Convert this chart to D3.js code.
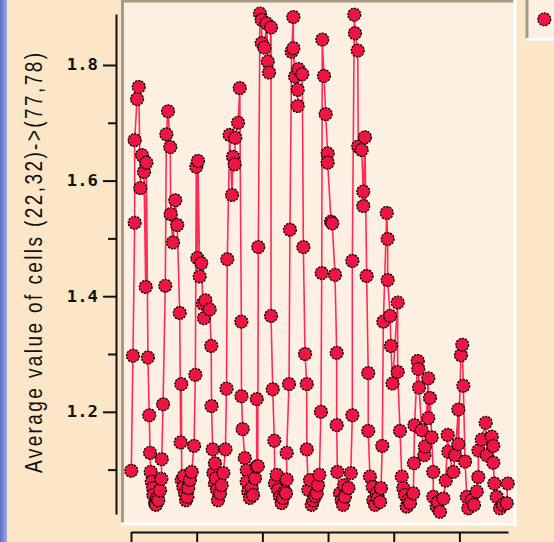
<!DOCTYPE html>
<html>
<head>
<meta charset="utf-8">
<script src="https://cdn.jsdelivr.net/npm/d3@7"></script>
<style>
  html, body { margin: 0; padding: 0; background: #fbe6c8; }
  svg { display: block; }
</style>
</head>
<body>
<svg id="chart" width="554" height="542"></svg>
<script>
// Simulation steps (x) and the average value of cells (22,32)->(77,78) at each step (y).
const steps = [
  0.2,1.5,2.8,2.8,4.6,5.9,7.1,8.4,9.9,11.2,11.7,12.9,13.9,14.5,15.0,15.8,16.8,17.0,18.3,19.0,19.8,20.8,22.1,23.1,23.4,
  24.4,26.1,26.9,28.2,29.9,30.2,32.0,33.7,35.2,37.1,37.8,38.3,38.6,39.8,40.3,41.1,41.9,42.9,43.6,44.9,46.2,48.0,
  49.0,49.7,50.5,51.0,52.3,53.5,54.8,55.6,56.6,59.9,61.1,61.3,62.2,62.7,63.9,63.9,64.7,65.5,66.2,67.8,69.0,70.3,
  71.9,72.7,73.3,75.1,76.9,77.7,78.9,79.4,81.5,82.8,84.0,84.1,85.0,86.6,88.1,88.1,89.3,90.6,91.9,92.9,94.4,95.7,
  95.7,96.5,96.9,98.2,99.5,99.5,101.5,103.3,104.1,105.1,106.6,106.6,107.9,109.1,109.6,110.9,111.9,113.4,114.7,115.7,117.2,118.0,118.5,
  118.5,120.3,121.0,122.3,123.6,123.6,124.9,126.9,126.9,127.4,130.4,131.2,132.5,133.8,133.8,135.0,136.3,137.6,138.8,140.1,141.4,142.4,143.4,
  144.6,145.2,145.6,146.9,148.2,149.7,149.7,152.3,153.2,155.3,156.6,156.6,157.1,159.1,160.4,161.4,162.2,162.9,165.5,167.3,
  168.5,168.5,170.0,170.5,172.6,173.0,175.6,176.8,176.8,178.1,179.4,180.6,180.6,181.9,184.0,184.5,185.8,187.0,188.0,189.6,190.3,
  191.3,192.1,194.7,195.4,195.4,197.2,197.9,199.1,203.0,203.0,204.8,206.1,207.3,208.6,209.9,211.1,212.4,214.9,
  215.4,215.8,218.3,218.7,219.3,221.3,223.3,223.8,226.3,226.3,227.6,228.9,230.1,230.1,232.7,233.7,235.2,237.8,
  239.6,241.1,241.6,245.4,246.7,249.2,249.2,251.2,252.2,253.0,254.3,255.6,256.8,259.4,261.1,263.2,264.4,
  264.5,267.0,270.0,270.8,274.6,275.8,275.8,276.6,278.4,280.9,283.2,286.0,286.8
];
const averages = [
  1.098,1.297,1.527,1.670,1.741,1.762,1.587,1.644,1.615,1.416,1.631,1.294,1.194,1.129,1.096,1.079,1.068,1.056,1.042,1.039,1.051,1.047,1.064,1.084,1.118,
  1.213,1.418,1.680,1.720,1.658,1.542,1.493,1.566,1.523,1.371,1.147,1.248,1.082,1.070,1.089,1.059,1.047,1.053,1.068,1.082,1.096,1.141,
  1.264,1.624,1.466,1.634,1.434,1.457,1.387,1.362,1.393,1.377,1.314,1.210,1.135,1.094,1.111,1.076,1.085,1.065,1.047,1.059,1.073,1.094,
  1.135,1.240,1.464,1.679,1.575,1.641,1.628,1.674,1.700,1.760,1.356,1.227,1.170,1.120,1.099,1.079,1.062,1.051,1.068,1.056,1.085,1.105,
  1.222,1.106,1.485,1.889,1.878,1.838,1.830,1.872,1.806,1.787,1.865,1.366,1.239,1.150,1.076,1.091,1.065,1.053,1.042,1.051,1.062,1.059,1.083,
  1.129,1.248,1.515,1.823,1.883,1.829,1.780,1.757,1.729,1.793,1.784,1.485,1.300,1.248,1.135,1.065,1.082,1.039,1.047,1.054,1.059,1.073,1.091,
  1.200,1.440,1.844,1.781,1.715,1.647,1.631,1.529,1.526,1.437,1.302,1.177,1.096,1.059,1.047,1.039,1.073,1.053,1.068,1.094,
  1.194,1.461,1.887,1.855,1.825,1.659,1.653,1.581,1.556,1.675,1.435,1.267,1.167,1.088,1.070,1.047,1.039,1.059,1.051,1.044,1.068,
  1.141,1.356,1.544,1.499,1.428,1.366,1.314,1.249,1.389,1.269,1.167,1.088,1.068,1.056,1.036,1.047,1.042,1.059,
  1.111,1.177,1.288,1.274,1.242,1.168,1.125,1.140,1.258,1.189,1.224,1.156,1.096,1.053,1.036,1.044,1.027,1.050,
  1.081,1.160,1.131,1.096,1.125,1.204,1.144,1.298,1.316,1.245,1.114,1.053,1.033,1.047,1.039,1.062,1.087,
  1.133,1.152,1.181,1.125,1.157,1.141,1.112,1.076,1.053,1.033,1.039,1.042,1.076
];
const xTickValues = [0, 50, 100, 150, 200, 250];
const yMajorTicks = [1.2, 1.4, 1.6, 1.8];
const yMinorTicks = [1.1, 1.3, 1.5, 1.7];
const yTitle = "Average value of cells (22,32)->(77,78)";

const svg = d3.select("#chart");

const PANEL = "#fdf0e2", EDGE = "#a89a84";
const LINE = "#ff2a58", DOT = "#ee1443";
const MONO = "'DejaVu Sans Mono', 'Liberation Mono', monospace";
const SANS = "'Liberation Sans', Arial, sans-serif";

// left accent stripe
const defs = svg.append("defs");
const grad = defs.append("linearGradient").attr("id", "stripe").attr("x1", 0).attr("x2", 1);
grad.append("stop").attr("offset", 0).attr("stop-color", "#5b6cc8");
grad.append("stop").attr("offset", 1).attr("stop-color", "#a3abe4");
svg.append("rect").attr("x", 0).attr("y", 0).attr("width", 7).attr("height", 542).attr("fill", "url(#stripe)");

// plotting panel with an inset edge
svg.append("rect").attr("x", 121).attr("y", 0).attr("width", 395).attr("height", 524).attr("fill", PANEL);
svg.append("rect").attr("x", 121).attr("y", 0).attr("width", 394).attr("height", 2.5).attr("fill", EDGE);
svg.append("rect").attr("x", 121).attr("y", 0).attr("width", 3).attr("height", 525).attr("fill", EDGE);
svg.append("rect").attr("x", 513.5).attr("y", 0).attr("width", 3).attr("height", 526).attr("fill", "#ffffff");
svg.append("rect").attr("x", 121).attr("y", 522.5).attr("width", 395.5).attr("height", 3).attr("fill", "#ffffff");

// scales
const x = d3.scaleLinear().domain([0, 287]).range([131, 508]);
const y = d3.scaleLinear().domain([1.0232, 1.8882]).range([514, 14]);

// y axis: major + minor ticks
svg.append("g").attr("transform", "translate(116,0)")
  .call(d3.axisLeft(y).tickValues(yMajorTicks).tickSize(13).tickSizeOuter(0).tickFormat(""));
svg.append("g").attr("transform", "translate(116,0)")
  .call(d3.axisLeft(y).tickValues(yMinorTicks).tickSize(8).tickSizeOuter(0).tickFormat(""))
  .select(".domain").remove();

// x axis
svg.append("g").attr("transform", "translate(0,532)")
  .call(d3.axisBottom(x).tickValues(xTickValues).tickSize(12).tickSizeOuter(0).tickFormat(""));

svg.selectAll(".domain, .tick line").attr("stroke", "#111").attr("stroke-width", 2);

// y tick labels
svg.append("g").selectAll("text").data(yMajorTicks).join("text")
  .attr("transform", d => `translate(98,${y(d)}) scale(1.15,1)`)
  .attr("dy", "0.36em")
  .attr("text-anchor", "end")
  .attr("font-family", MONO)
  .attr("font-weight", "bold")
  .attr("font-size", 15)
  .attr("fill", "#111")
  .text(d => d3.format(".1f")(d));

// y axis title
svg.append("text")
  .attr("transform", "translate(42,263) scale(1.25,1) rotate(-90)")
  .attr("text-anchor", "middle")
  .attr("font-family", SANS)
  .attr("font-size", 19)
  .attr("textLength", 420)
  .attr("lengthAdjust", "spacing")
  .attr("fill", "#111")
  .text(yTitle);

// series
const pts = steps.map((s, i) => ({ s, v: averages[i] }));
const line = d3.line().x(d => x(d.s)).y(d => y(d.v));
svg.append("path").datum(pts)
  .attr("d", line)
  .attr("fill", "none")
  .attr("stroke", LINE)
  .attr("stroke-width", 1.6);

svg.append("g").selectAll("circle").data(pts).join("circle")
  .attr("cx", d => x(d.s))
  .attr("cy", d => y(d.v))
  .attr("r", 6.4)
  .attr("fill", DOT)
  .attr("stroke", "#000")
  .attr("stroke-width", 1.3)
  .attr("stroke-dasharray", "2.2,1");

// legend box
svg.append("rect").attr("x", 525.5).attr("y", -3).attr("width", 40).attr("height", 42).attr("fill", PANEL);
svg.append("rect").attr("x", 525.5).attr("y", 0).attr("width", 3).attr("height", 39).attr("fill", EDGE);
svg.append("rect").attr("x", 526).attr("y", 38).attr("width", 30).attr("height", 2.5).attr("fill", "#ffffff");
svg.append("circle").attr("cx", 544.3).attr("cy", 19.3).attr("r", 6.4)
  .attr("fill", DOT).attr("stroke", "#000").attr("stroke-width", 1.3).attr("stroke-dasharray", "2.2,1");
</script>
</body>
</html>
